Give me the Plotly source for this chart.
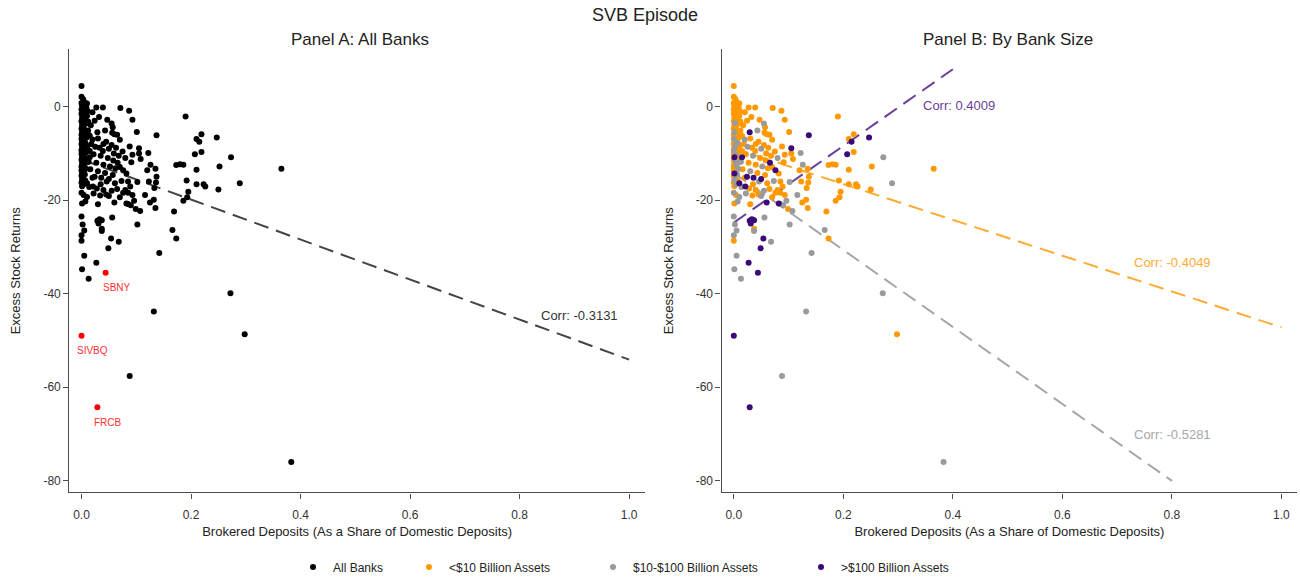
import plotly.graph_objects as go

# ---------------- data ----------------
# <$10 Billion Assets
small_x = [0.000, 0.000, 0.003, 0.006, 0.000, 0.001, 0.004, 0.009, 0.000, 0.002, 0.006, 0.000, 0.003, 0.010,
           0.001, 0.005, 0.000, 0.008, 0.001, 0.004, 0.000, 0.003, 0.012, 0.006, 0.000, 0.002, 0.009, 0.004,
           0.001, 0.000, 0.011, 0.001, 0.005, 0.002, 0.008, 0.000, 0.006, 0.000, 0.010, 0.001, 0.000, 0.002,
           0.000, 0.004, 0.000, 0.003, 0.007, 0.000, 0.001,
           0.010, 0.011, 0.012, 0.011,
           0.027, 0.039, 0.071, 0.087, 0.093, 0.190, 0.057, 0.056, 0.060, 0.101, 0.070, 0.088, 0.093, 0.059,
           0.039, 0.033, 0.210, 0.219, 0.219, 0.365, 0.173, 0.180, 0.186, 0.210, 0.252, 0.192, 0.210, 0.223,
           0.226, 0.250, 0.195, 0.193, 0.186, 0.120, 0.135, 0.137, 0.123, 0.136, 0.108, 0.091, 0.105, 0.070,
           0.082, 0.085, 0.089, 0.076, 0.085, 0.093, 0.080, 0.099, 0.125, 0.132, 0.135, 0.133, 0.169, 0.173,
           0.030, 0.037, 0.000, 0.004, 0.001, 0.298,
           0.015, 0.030, 0.045, 0.055, 0.018, 0.040, 0.063, 0.015, 0.022, 0.048, 0.058, 0.027, 0.040, 0.062,
           0.016, 0.043, 0.057, 0.020, 0.035, 0.061, 0.028, 0.040, 0.065, 0.034, 0.045, 0.070, 0.017, 0.024,
           0.032, 0.020, 0.047, 0.065, 0.075, 0.068]
small_y = [4.4, 2.1, 1.6, 0.9, 0.8, 0.2, -0.2, -0.3, -0.6, -1.0, -1.2, -1.5, -1.9, -2.0,
           -2.4, -2.8, -3.1, -3.6, -4.0, -4.3, -4.7, -5.0, -5.1, -5.8, -6.0, -6.4, -6.6, -7.2,
           -7.5, -8.0, -8.4, -8.8, -9.0, -9.6, -9.8, -10.1, -11.1, -11.4, -11.9, -12.2, -12.8, -13.1,
           -13.6, -13.9, -14.8, -15.2, -15.8, -16.2, -17.0,
           0.7, -1.0, -3.2, -5.3,
           -0.2, -0.2, -0.3, -0.9, -2.8, -2.1, -4.4, -5.6, -5.9, -5.4, -7.1, -8.5, -10.3, -10.0,
           -9.5, -8.8, -6.9, -5.9, -9.7, -13.3, -12.5, -12.3, -12.4, -13.5, -12.8, -15.8, -16.6, -16.6,
           -17.1, -17.7, -18.2, -19.4, -20.1, -13.6, -13.3, -15.0, -16.0, -16.2, -11.2, -11.9, -10.0, -12.9,
           -14.3, -16.0, -17.1, -18.4, -18.4, -18.9, -17.8, -21.9, -20.5, -19.9, -21.7, -17.4, -22.4, -28.2,
           -20.9, -26.1, -28.7, -18.9, -20.7, -48.7,
           -6.2, -6.8, -7.5, -8.2, -8.0, -8.0, -8.8, -9.5, -10.2, -11.0, -11.5, -12.0, -12.4, -13.2,
           -13.4, -14.2, -14.6, -15.2, -16.6, -16.4, -17.5, -17.8, -17.6, -19.0, -18.8, -19.4, -4.0, -3.0,
           -2.2, -1.2, -2.8, -6.0, -9.6, -10.5]

# $10-$100 Billion Assets
mid_x = [0.002, 0.001, 0.000, 0.007, 0.003, 0.000, 0.004, 0.003, 0.005, 0.008, 0.006, 0.001, 0.004,
         0.043, 0.122, 0.273, 0.289, 0.126, 0.073, 0.102, 0.116, 0.085, 0.090, 0.096,
         0.107, 0.102, 0.166, 0.142, 0.272, 0.050, 0.037, 0.056, 0.068,
         0.005, 0.001, 0.013, 0.000, 0.002, 0.005, 0.000, 0.000, 0.010, 0.007,
         0.132, 0.088, 0.383,
         0.020, 0.025, 0.050, 0.035, 0.013, 0.052, 0.030, 0.046, 0.014, 0.055, 0.022, 0.055, 0.080]
mid_y = [-3.5, -5.5, -6.9, -7.7, -8.3, -9.3, -10.4, -11.7, -12.5, -13.3, -14.5, -15.6, -16.6,
         -5.1, -9.9, -10.8, -16.4, -12.4, -15.9, -16.1, -18.9, -20.8, -21.1, -20.1,
         -22.3, -25.2, -26.4, -31.3, -39.9, -19.1, -26.6, -23.7, -28.9,
         -31.9, -34.8, -36.8, -23.5, -25.2, -26.5, -27.5, -18.4, -19.3, -20.3,
         -43.8, -57.6, -76.0,
         -7.0, -8.6, -9.0, -10.5, -11.8, -12.8, -13.8, -16.0, -17.2, -18.0, -18.6, -3.6, -11.0]

# >$100 Billion Assets (not labelled)
large_x = [0.001, 0.015, 0.001, 0.024, 0.010, 0.021, 0.029, 0.137, 0.105, 0.215, 0.247, 0.207,
           0.066, 0.076, 0.050, 0.036, 0.060, 0.082, 0.029, 0.033, 0.037, 0.031, 0.054, 0.049, 0.027]
large_y = [-10.8, -10.8, -14.3, -15.0, -16.4, -17.1, -5.5, -6.1, -8.9, -7.5, -6.6, -10.2,
           -12.0, -13.6, -15.5, -15.2, -20.5, -20.7, -24.4, -24.1, -24.3, -25.0, -28.2, -30.3, -33.4]

# labelled banks (all >$100 Billion Assets)
flag_names = ["SBNY", "SIVBQ", "FRCB"]
flag_x = [0.044, 0.000, 0.029]
flag_y = [-35.5, -49.0, -64.3]

# linear fits: intercept, slope, x-extent, correlation
fit_intercept = {"all": -11.3, "small": -8.9, "mid": -14.2, "large": -24.8}
fit_slope = {"all": -42.8, "small": -38.3, "mid": -82.3, "large": 82.0}
fit_xmax = {"all": 1.0, "small": 1.0, "mid": 0.8, "large": 0.4}
fit_corr = {"all": "-0.3131", "small": "-0.4049", "mid": "-0.5281", "large": "0.4009"}

x_ticks = [0.0, 0.2, 0.4, 0.6, 0.8, 1.0]
x_tick_labels = ["0.0", "0.2", "0.4", "0.6", "0.8", "1.0"]
y_ticks = [-80, -60, -40, -20, 0]
y_tick_labels = ["-80", "-60", "-40", "-20", "0"]

# ---------------- styling ----------------
W, H = 1300, 582
FONT = "Liberation Sans, Arial, sans-serif"
AX = "#4d4d4d"
ORANGE = "#FF9900"
ORANGE_L = "#FFAA33"
GRAY = "#9a9a9a"
GRAY_L = "#a6a6a6"
PURPLE = "#3B0A78"
PURPLE_L = "#6A3D9A"
MS = 6

all_x = small_x + mid_x + large_x
all_y = small_y + mid_y + large_y

fig = go.Figure()

def fit_line(key):
    xs = [0.0, fit_xmax[key]]
    ys = [fit_intercept[key] + fit_slope[key] * v for v in xs]
    return xs, ys

# ----- Panel A -----
fx, fy = fit_line("all")
fig.add_trace(go.Scatter(x=fx, y=fy, mode="lines", line=dict(color="#444444", width=2, dash="15px,8px"),
                         showlegend=False, hoverinfo="skip", xaxis="x", yaxis="y"))
fig.add_trace(go.Scatter(x=all_x, y=all_y, mode="markers", name="All Banks",
                         marker=dict(color="black", size=MS, line=dict(width=0)),
                         xaxis="x", yaxis="y", legend="legend"))
fig.add_trace(go.Scatter(x=flag_x, y=flag_y, mode="markers", showlegend=False,
                         marker=dict(color="red", size=MS, line=dict(width=0)),
                         xaxis="x", yaxis="y"))

# ----- Panel B -----
for key, col in [("small", ORANGE_L), ("mid", GRAY_L), ("large", PURPLE_L)]:
    fx, fy = fit_line(key)
    fig.add_trace(go.Scatter(x=fx, y=fy, mode="lines", line=dict(color=col, width=2, dash="15px,8px"),
                             showlegend=False, hoverinfo="skip", xaxis="x2", yaxis="y2"))

fig.add_trace(go.Scatter(x=small_x, y=small_y, mode="markers", name="<$10 Billion Assets",
                         marker=dict(color=ORANGE, size=MS, line=dict(width=0)),
                         xaxis="x2", yaxis="y2", legend="legend2"))
fig.add_trace(go.Scatter(x=mid_x, y=mid_y, mode="markers", name="$10-$100 Billion Assets",
                         marker=dict(color=GRAY, size=MS, line=dict(width=0)),
                         xaxis="x2", yaxis="y2", legend="legend3"))
fig.add_trace(go.Scatter(x=large_x + flag_x, y=large_y + flag_y, mode="markers", name=">$100 Billion Assets",
                         marker=dict(color=PURPLE, size=MS, line=dict(width=0)),
                         xaxis="x2", yaxis="y2", legend="legend4"))

# ----- axes -----
xdomA = [69.3 / W, 645.0 / W]
xdomB = [721.6 / W, 1297.3 / W]
ydom = [1 - 501.0 / H, 1 - 50.0 / H]
xr = [-0.0223, 1.029]
yr = [-82.5, 12.3]

def xaxis(domain, anchor):
    return dict(domain=domain, anchor=anchor, range=xr, tickvals=x_ticks, ticktext=x_tick_labels,
                ticks="outside", ticklen=5, tickwidth=1.2, tickcolor=AX, showline=True, linecolor=AX,
                linewidth=1.3, showgrid=False, zeroline=False, automargin=False, ticklabelstandoff=6,
                tickfont=dict(size=12, color="#333333", family=FONT),
                title=dict(text="Brokered Deposits (As a Share of Domestic Deposits)",
                           font=dict(size=13, color="#222222", family=FONT), standoff=5))

def yaxis(anchor):
    return dict(domain=ydom, anchor=anchor, range=yr, tickvals=y_ticks, ticktext=y_tick_labels,
                ticks="outside", ticklen=5, tickwidth=1.2, tickcolor=AX, showline=True, linecolor=AX,
                linewidth=1.3, showgrid=False, zeroline=False, automargin=False,
                tickfont=dict(size=12, color="#333333", family=FONT),
                title=dict(text="Excess Stock Returns", font=dict(size=13, color="#222222", family=FONT),
                           standoff=19))

def ann(text, xpx, ypx, size):
    return dict(text=text, x=xpx / W, y=1 - ypx / H, xref="paper", yref="paper", showarrow=False,
                xanchor="center", yanchor="middle", font=dict(size=size, color="#222222", family=FONT))

annotations = [
    ann("SVB Episode", 645, 15, 18),
    ann("Panel A: All Banks", 360, 40, 17),
    ann("Panel B: By Bank Size", 1008, 40, 17),
    dict(text="Corr: " + fit_corr["all"], x=0.909, y=-44.7, xref="x", yref="y", showarrow=False,
         xanchor="center", yanchor="middle", font=dict(size=13, color="#333333", family=FONT)),
    dict(text="Corr: " + fit_corr["large"], x=0.412, y=0.3, xref="x2", yref="y2", showarrow=False,
         xanchor="center", yanchor="middle", font=dict(size=13, color=PURPLE_L, family=FONT)),
    dict(text="Corr: " + fit_corr["small"], x=0.801, y=-33.3, xref="x2", yref="y2", showarrow=False,
         xanchor="center", yanchor="middle", font=dict(size=13, color=ORANGE_L, family=FONT)),
    dict(text="Corr: " + fit_corr["mid"], x=0.801, y=-70.1, xref="x2", yref="y2", showarrow=False,
         xanchor="center", yanchor="middle", font=dict(size=13, color=GRAY_L, family=FONT)),
]
for name, xv, yv in zip(flag_names, flag_x, flag_y):
    annotations.append(dict(text=name, x=xv, y=yv, xref="x", yref="y", showarrow=False,
                            xanchor="center", yanchor="middle",
                            xshift=11, yshift=-15, font=dict(size=10, color="#ff3030", family=FONT)))

def leg(xpx):
    return dict(x=(xpx - 20) / W, y=1 - 577 / H, xanchor="left", yanchor="middle", orientation="h",
                bgcolor="rgba(0,0,0,0)", borderwidth=0, font=dict(size=12, color="#222222", family=FONT),
                itemwidth=30, tracegroupgap=0)

fig.update_layout(
    width=W, height=H, autosize=False,
    margin=dict(l=0, r=0, t=0, b=0),
    paper_bgcolor="white", plot_bgcolor="white",
    font=dict(family=FONT),
    xaxis=xaxis(xdomA, "y"), yaxis=yaxis("x"),
    xaxis2=xaxis(xdomB, "y2"), yaxis2=yaxis("x2"),
    annotations=annotations,
    showlegend=True,
    legend=leg(313), legend2=leg(429), legend3=leg(613), legend4=leg(821),
)

fig.write_html("out.html", config={"displayModeBar": False},
               post_script="document.body.style.margin='0';document.body.style.overflow='hidden';")
